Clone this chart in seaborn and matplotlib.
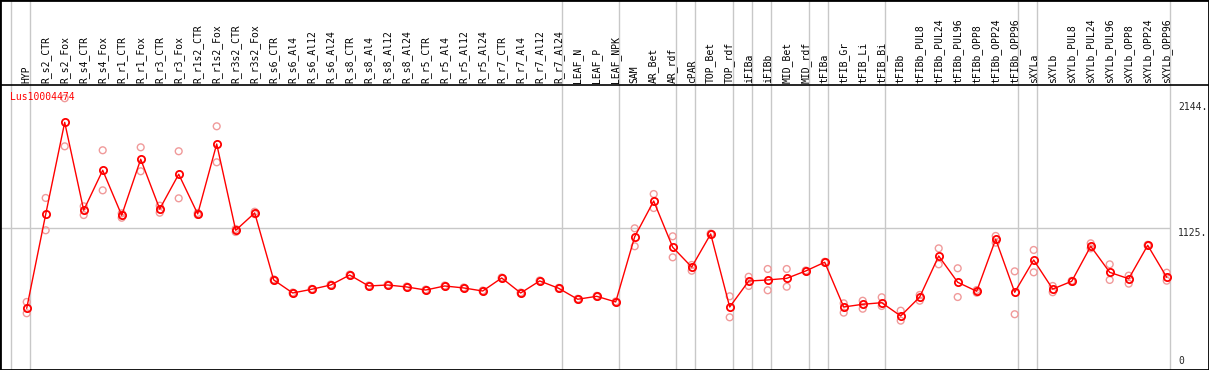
import pandas as pd
import matplotlib
matplotlib.use("Agg")
import matplotlib.pyplot as plt
import seaborn as sns

sns.set_style("white")
plt.rcParams['font.family'] = ['DejaVu Sans Mono', 'DejaVu Sans']

"""
DATA
"""
gene_id = "Lus10004474"

groups = [
    ["HYP"],
    ["R_s2_CTR", "R_s2_Fox", "R_s4_CTR", "R_s4_Fox", "R_r1_CTR", "R_r1_Fox",
     "R_r3_CTR", "R_r3_Fox", "R_r1s2_CTR", "R_r1s2_Fox", "R_r3s2_CTR", "R_r3s2_Fox",
     "R_s6_CTR", "R_s6_Al4", "R_s6_Al12", "R_s6_Al24", "R_s8_CTR", "R_s8_Al4",
     "R_s8_Al12", "R_s8_Al24", "R_r5_CTR", "R_r5_Al4", "R_r5_Al12", "R_r5_Al24",
     "R_r7_CTR", "R_r7_Al4", "R_r7_Al12", "R_r7_Al24"],
    ["LEAF_N", "LEAF_P", "LEAF_NPK"],
    ["SAM", "AR_Bet", "AR_rdf"],
    ["cPAR"],
    ["TOP_Bet", "TOP_rdf"],
    ["iFIBa"],
    ["iFIBb"],
    ["MID_Bet", "MID_rdf"],
    ["tFIBa"],
    ["tFIB_Gr", "tFIB_Li", "tFIB_Bi"],
    ["tFIBb", "tFIBb_PUL8", "tFIBb_PUL24", "tFIBb_PUL96", "tFIBb_OPP8",
     "tFIBb_OPP24", "tFIBb_OPP96"],
    ["sXYLa"],
    ["sXYLb", "sXYLb_PUL8", "sXYLb_PUL24", "sXYLb_PUL96", "sXYLb_OPP8",
     "sXYLb_OPP24", "sXYLb_OPP96"],
]
samples = [s for g in groups for s in g]

mean_expr = [
    469,
    1234, 1982, 1267, 1592, 1226, 1682, 1277, 1560, 1237, 1806, 1104, 1245,
    700, 594, 624, 659, 740, 651, 659, 643, 618, 651, 635, 610, 716, 594, 692, 632,
    543, 567, 521,
    1052, 1342, 966,
    805,
    1074, 480,
    691,
    700,
    713, 773,
    844,
    480, 502, 515,
    407, 561, 895, 681, 608, 1031, 600,
    862,
    626, 689, 974, 762, 710, 982, 722,
]
rep_a = [
    521,
    1367, 2178, 1299, 1755, 1242, 1779, 1304, 1747, 1245, 1950, 1115, 1255,
    705, 598, 628, 663, 744, 655, 663, 647, 622, 655, 639, 614, 720, 598, 696, 636,
    547, 571, 525,
    1120, 1399, 1055,
    822,
    1078, 567,
    726,
    789,
    789, 777,
    848,
    510, 531, 559,
    450, 578, 957, 795, 618, 1058, 770,
    944,
    651, 693, 998, 827, 735, 986, 759,
]
rep_b = [
    429,
    1104, 1787, 1228, 1429, 1206, 1584, 1247, 1364, 1229, 1657, 1090, 1235,
    695, 590, 620, 655, 736, 647, 655, 639, 614, 647, 631, 606, 712, 590, 688, 628,
    539, 563, 517,
    974, 1285, 884,
    775,
    1070, 396,
    651,
    616,
    645, 769,
    840,
    434, 466, 488,
    369, 531, 827, 561, 596, 1003, 421,
    762,
    600, 685, 957, 700, 670, 978, 694,
]
y_marks = [0, 1125, 2144]

"""
LAYOUT (pixel geometry of the reference)
"""
W, H = 1209, 370
COL0_PX, COL_STEP_PX = 26.7, 19.0
ZERO_PX, PX_PER_UNIT = 366.0, 0.12293
HEADER_PX = 85
GRID = "#c8c8c8"


def px_to_x(p):
    return (p - COL0_PX) / COL_STEP_PX


def px_to_y(p):
    return (ZERO_PX - p) / PX_PER_UNIT


def main():
    pos = list(range(len(samples)))
    df_mean = pd.DataFrame({"pos": pos, "sample": samples, "expr": mean_expr})
    df_rep = pd.concat([
        pd.DataFrame({"pos": pos, "expr": rep_a}),
        pd.DataFrame({"pos": pos, "expr": rep_b}),
    ])

    fig = plt.figure(figsize=(W / 100, H / 100), dpi=100)
    ax = fig.add_axes([0, 0, 1, 1])
    ax.set_xlim(px_to_x(0), px_to_x(W))
    ax.set_ylim(px_to_y(H), px_to_y(0))

    # group separators
    sep_off = 3.5 / COL_STEP_PX
    ax.axvline(-1 + sep_off, color=GRID, lw=1, zorder=1)
    end = -1
    for g in groups:
        end += len(g)
        ax.axvline(end + sep_off, color=GRID, lw=1, zorder=1)
    right_edge = end + sep_off

    # header line and reference line
    ax.axhline(px_to_y(HEADER_PX), color="black", lw=1.2, zorder=2)
    ax.hlines(1125, ax.get_xlim()[0], right_edge, color=GRID, lw=1, zorder=1)

    sns.scatterplot(data=df_rep, x="pos", y="expr", ax=ax, marker="o", s=24,
                    facecolor="none", edgecolor="#f09a9a", linewidth=1.0,
                    zorder=3, legend=False)
    sns.lineplot(data=df_mean, x="pos", y="expr", ax=ax, color="red", lw=1,
                 marker="o", markersize=5.2, markerfacecolor="none",
                 markeredgecolor="red", markeredgewidth=1.3, zorder=4)

    # sample labels in the header
    for i, s in enumerate(samples):
        ax.text(i, px_to_y(HEADER_PX - 2), s, rotation=90, ha="center",
                va="bottom", fontsize=7, color="black")

    ax.text(px_to_x(10), px_to_y(97), gene_id, color="red", fontsize=7,
            ha="left", va="center")

    for v in y_marks:
        label = "0" if v == 0 else f"{v}."
        ax.text(px_to_x(1178), v, label, fontsize=7, ha="left",
                va="bottom" if v == 0 else "top")

    ax.set_xticks([])
    ax.set_yticks([])
    ax.set_xlabel("")
    ax.set_ylabel("")
    for sp in ax.spines.values():
        sp.set_visible(True)
        sp.set_color("black")
        sp.set_linewidth(2)

    fig.savefig("out.png", dpi=100)
    plt.close(fig)


if __name__ == "__main__":
    main()
